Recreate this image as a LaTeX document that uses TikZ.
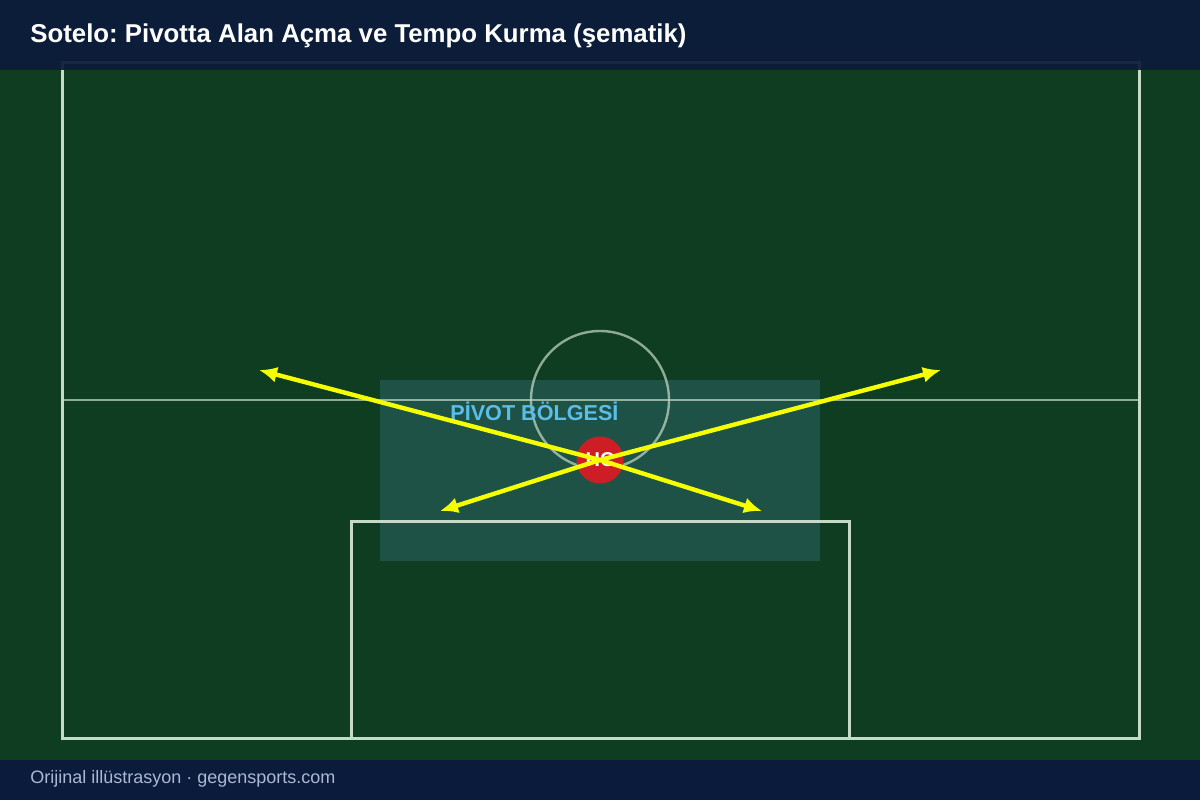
\documentclass[tikz,border=0pt]{standalone}
\usepackage{fontspec}
\setmainfont{Liberation Sans}
\frenchspacing
\usetikzlibrary{arrows.meta}
\definecolor{pitchgreen}{RGB}{15,61,34}
\definecolor{navy}{RGB}{11,27,59}
\definecolor{chalk}{RGB}{197,219,198}
\definecolor{zonefill}{RGB}{30,82,70}
\definecolor{zonetext}{RGB}{91,190,232}
\definecolor{hcred}{RGB}{204,30,36}
\definecolor{passyellow}{RGB}{245,255,0}
\definecolor{foottext}{RGB}{170,185,210}
\tikzset{
  chalkline/.style={draw=chalk, line width=1.5pt},
  faintline/.style={draw=chalk, draw opacity=0.7, line width=1.2pt},
  pass/.style={draw=passyellow, line width=2.2pt, -{Latex[length=9pt,width=8pt]}},
  player/.style={circle, fill=hcred, minimum size=23.5pt, inner sep=0pt, text=white, font=\bfseries\fontsize{10}{10}\selectfont},
}
\begin{document}
\begin{tikzpicture}[x=0.5pt,y=-0.5pt]
\useasboundingbox (0,0) rectangle (1200,800);
\fill[pitchgreen] (0,0) rectangle (1200,800);
% pivot zone
\fill[zonefill] (380,380) rectangle (820,561);
% pitch
\draw[chalkline] (62,62) rectangle (1139,738);
\draw[faintline] (62,400) -- (1139,400);
\draw[faintline] (600,400) circle (69);
\draw[chalkline] (351,738) -- (351,521) -- (849,521) -- (849,738);
% header and footer
\fill[navy, fill opacity=0.93] (0,0) rectangle (1200,70);
\fill[navy] (0,760) rectangle (1200,800);
\node[anchor=base west, text=white, font=\bfseries\fontsize{12.9}{14}\selectfont, inner sep=0pt] (title) at (30,42) {Sotelo: Pivotta Alan Açma ve Tempo Kurma (şematik)};
\node[anchor=base west, text=foottext, font=\fontsize{9}{10}\selectfont, inner sep=0pt] (foot) at (30,783) {Orijinal illüstrasyon · gegensports.com};
% zone label
\node[anchor=base west, text=zonetext, font=\bfseries\fontsize{10.8}{12}\selectfont, inner sep=0pt] (zlabel) at (450,420) {PİVOT BÖLGESİ};
% player
\node[player] (hc) at (600,460) {HC};
\coordinate (t1) at (259,370);
\coordinate (t2) at (941,370);
\coordinate (t3) at (440,511);
\coordinate (t4) at (762,511);
\draw[pass] (hc.center) -- (t1);
\draw[pass] (hc.center) -- (t2);
\draw[pass] (hc.center) -- (t3);
\draw[pass] (hc.center) -- (t4);
\end{tikzpicture}
\end{document}
